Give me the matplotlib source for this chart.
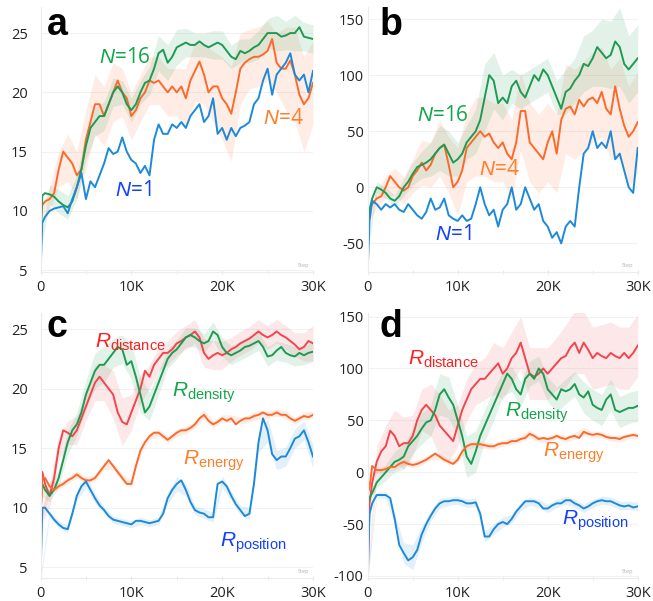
import numpy as np
import matplotlib
matplotlib.use("Agg")
import matplotlib.pyplot as plt

plt.rcParams['font.family'] = ['Open Sans', 'DejaVu Sans']
plt.rcParams['mathtext.fontset'] = 'custom'
plt.rcParams['mathtext.rm'] = 'Liberation Sans'
plt.rcParams['mathtext.it'] = 'Liberation Sans:italic'

# training steps: 0, 200, then every 500 up to 30K
steps = np.array([0, 200] + list(range(500, 30001, 500)))
band_steps = np.arange(0, 30001, 1000)

# ---- panel a ----
a_n1 = [4.7, 9.0, 9.5, 10.0, 10.2, 10.3, 10.4, 9.8, 11.0, 12.0, 13.2, 11.0, 12.5, 12.0, 13.0, 14.0, 15.3, 14.8, 15.0, 16.2,
        15.0, 14.3, 14.0, 13.2, 13.8, 13.0, 16.0, 17.3, 16.5, 16.5, 17.3, 17.0, 17.5, 17.0, 18.0, 18.5, 19.0, 17.5, 18.0, 19.5,
        16.5, 17.0, 16.0, 17.0, 16.3, 17.0, 17.2, 17.5, 19.0, 19.5, 21.0, 22.0, 19.8, 21.5, 22.0, 22.5, 23.3, 21.5, 21.0, 21.5,
        20.0, 21.8]
a_n4 = [9.8, 10.5, 10.8, 11.0, 11.5, 13.5, 15.0, 14.5, 14.0, 13.0, 13.5, 16.0, 17.5, 19.0, 19.0, 18.0, 19.0, 20.0, 21.0, 20.0,
        19.5, 18.0, 18.5, 19.5, 20.0, 21.0, 20.8, 21.0, 20.5, 20.0, 20.5, 20.0, 20.5, 19.5, 21.0, 21.8, 22.6, 21.5, 20.0, 20.5,
        20.5, 19.5, 19.0, 18.2, 20.0, 22.0, 22.5, 22.8, 23.0, 23.0, 23.2, 23.5, 24.5, 22.5, 22.0, 22.0, 22.7, 21.5, 19.8, 19.0,
        19.5, 20.8]
a_n16 = [7.0, 11.3, 11.5, 11.4, 11.2, 10.8, 10.5, 10.3, 10.8, 12.0, 13.5, 15.5, 17.0, 17.5, 18.0, 18.0, 19.0, 20.0, 20.5, 20.0,
         19.0, 18.5, 19.0, 20.0, 20.8, 21.0, 22.0, 23.3, 23.6, 22.5, 23.0, 23.8, 24.0, 24.2, 24.0, 24.0, 24.3, 24.0, 23.8, 24.0,
         24.2, 24.0, 23.5, 23.0, 22.8, 23.5, 23.3, 23.5, 23.8, 24.0, 24.5, 25.0, 25.0, 25.0, 24.7, 24.8, 25.0, 25.0, 25.5, 24.7,
         24.6, 24.5]
a_n4_band = [0.5, 1.0, 1.5, 2.0, 2.0, 2.5, 2.5, 2.5, 2.5, 2.0, 2.0, 2.0, 2.0, 2.0, 2.0, 2.0, 2.5, 2.5, 2.5, 3.0, 3.5, 4.0,
             3.0, 2.5, 2.5, 2.5, 2.5, 3.5, 4.0, 4.0, 3.5]
a_n16_band = [0.3, 0.8, 1.0, 1.0, 1.0, 1.2, 1.2, 1.2, 1.2, 1.0, 1.0, 1.0, 1.2, 1.5, 1.5, 1.5, 1.2, 1.0, 1.0, 1.2, 1.2, 1.0,
              1.0, 1.0, 1.2, 1.2, 1.5, 1.2, 1.5, 1.2, 1.2]

# ---- panel b ----
b_n1 = [-75, -30, -12, -15, -20, -15, -18, -15, -20, -22, -15, -20, -25, -28, -22, -10, -20, -18, -10, -25, -28, -30, -25, -30,
        -28, -15, 0, -15, -25, -20, -35, -20, -15, 0, -20, -15, 0, -10, -20, -15, -30, -35, -45, -40, -50, -35, -30, -35, 0, 30,
        35, 50, 35, 40, 35, 50, 25, 30, 15, 0, -5, 35]
b_n4 = [-28, -20, -15, -10, -8, 0, 10, 5, 0, -3, 0, 10, 15, 22, 15, 20, 30, 35, 38, 20, 0, 5, 15, 35, 40, 45, 50, 45, 48, 40,
        35, 40, 30, 25, 40, 68, 68, 40, 35, 30, 25, 40, 50, 30, 60, 70, 72, 65, 78, 72, 78, 80, 75, 85, 70, 65, 90, 70, 55, 45,
        50, 58]
b_n16 = [-55, -20, -10, 0, -2, -5, -10, -12, -8, 0, 5, 12, 18, 20, 22, 25, 30, 35, 38, 30, 22, 25, 30, 40, 45, 50, 60, 80, 100,
         95, 75, 80, 75, 90, 95, 85, 80, 90, 100, 95, 105, 100, 90, 80, 70, 85, 88, 95, 100, 110, 108, 115, 125, 120, 115, 118,
         130, 125, 110, 105, 110, 115]
b_n4_band = [5, 8, 10, 12, 12, 15, 20, 20, 25, 25, 30, 30, 35, 35, 35, 35, 35, 35, 35, 35, 35, 35, 40, 40, 40, 40, 40, 40, 45,
             45, 45]
b_n16_band = [5, 5, 5, 5, 8, 10, 12, 15, 20, 20, 15, 15, 20, 30, 25, 20, 15, 15, 15, 15, 15, 15, 20, 20, 25, 25, 30, 30, 35, 30,
              30]

# ---- panel c ----
c_dist = [9.0, 13.0, 12.0, 11.0, 12.5, 15.0, 16.5, 16.3, 16.0, 16.5, 17.5, 18.5, 19.5, 20.5, 21.0, 20.5, 20.0, 19.5, 18.0, 17.2,
          17.0, 18.0, 19.0, 20.0, 21.5, 21.0, 22.0, 22.5, 23.0, 23.0, 23.3, 23.8, 24.0, 24.3, 24.5, 24.8, 24.3, 23.0, 22.5, 22.8,
          23.0, 22.8, 23.0, 23.3, 23.5, 23.8, 24.0, 24.2, 24.5, 24.8, 24.5, 24.3, 24.5, 24.8, 24.5, 24.3, 24.0, 23.7, 23.3, 23.5,
          24.0, 23.8]
c_dens = [11.5, 12.0, 11.5, 11.0, 11.5, 12.5, 14.0, 15.5, 16.5, 17.0, 18.0, 19.5, 20.5, 21.5, 22.0, 22.0, 22.5, 23.0, 23.5, 23.3,
          22.0, 22.3, 21.0, 19.5, 18.0, 18.5, 19.5, 20.5, 21.5, 22.5, 23.0, 23.3, 23.8, 24.3, 24.5, 24.3, 24.0, 23.8, 24.0, 24.8,
          24.5, 23.5, 23.0, 22.8, 23.0, 23.2, 23.5, 23.6, 23.8, 24.0, 23.5, 22.7, 22.8, 23.2, 23.5, 23.0, 22.8, 22.7, 23.0, 22.8,
          23.0, 23.1]
c_energy = [9.0, 12.5, 12.5, 11.8, 11.5, 11.8, 12.0, 12.3, 12.5, 12.8, 12.5, 12.3, 12.3, 12.5, 13.0, 13.5, 14.0, 13.5, 13.0, 12.5,
            12.0, 12.0, 13.5, 14.8, 15.5, 16.0, 16.3, 16.3, 16.0, 15.7, 16.0, 16.3, 16.5, 16.5, 16.7, 17.0, 17.5, 17.8, 17.3, 17.0,
            17.2, 17.5, 17.3, 17.5, 17.0, 17.3, 17.5, 17.5, 17.7, 17.8, 18.0, 17.8, 17.8, 18.0, 17.8, 17.8, 17.5, 17.3, 17.5, 17.7,
            17.6, 17.8]
c_pos = [4.0, 10.0, 10.0, 9.5, 9.0, 8.6, 8.3, 8.2, 9.5, 11.0, 11.8, 12.2, 11.5, 10.8, 10.2, 9.8, 9.3, 9.0, 8.9, 8.8,
         8.7, 8.6, 8.9, 8.9, 8.8, 8.7, 8.8, 8.9, 9.5, 10.8, 11.5, 12.0, 12.3, 11.5, 10.5, 9.8, 9.6, 9.5, 9.2, 9.2,
         12.0, 12.2, 11.8, 11.0, 10.3, 9.8, 9.3, 9.5, 12.0, 15.5, 17.5, 16.5, 14.5, 14.0, 14.3, 14.3, 15.0, 15.8, 16.0, 16.5,
         15.5, 14.3]
c_dist_band = [0.5, 1.0, 1.0, 1.0, 1.2, 1.2, 1.5, 1.5, 2.0, 2.0, 1.5, 1.2, 1.0, 1.0, 1.0, 1.0, 1.0, 1.0, 1.2, 1.2, 1.2, 1.0,
               1.0, 1.0, 1.0, 1.0, 1.0, 1.0, 1.0, 1.2, 1.5]
c_dens_band = [0.5, 0.5, 0.8, 1.0, 1.0, 1.2, 1.5, 1.5, 1.2, 1.2, 1.5, 1.5, 1.2, 1.0, 0.8, 0.8, 0.8, 0.8, 0.8, 0.8, 0.8, 0.8,
               0.8, 0.8, 0.8, 0.8, 0.8, 0.8, 0.8, 0.8, 0.8]
c_energy_band = [0.5, 0.5, 0.3, 0.3, 0.3, 0.3, 0.3, 0.3, 0.3, 0.3, 0.3, 0.3, 0.3, 0.3, 0.3, 0.3, 0.3, 0.3, 0.4, 0.3, 0.3,
                 0.3, 0.3, 0.3, 0.4, 0.3, 0.3, 0.3, 0.3, 0.3, 0.3]
c_pos_band = [0.3, 0.3, 0.3, 0.3, 0.4, 0.5, 0.4, 0.3, 0.3, 0.3, 0.3, 0.3, 0.3, 0.3, 0.5, 0.6, 0.5, 0.4, 0.4, 0.4, 0.5, 0.4,
              0.4, 0.5, 0.8, 1.0, 0.8, 0.8, 0.8, 0.8, 1.0]

# ---- panel d ----
d_dist = [-100, -30, -10, 10, 20, 25, 40, 35, 25, 28, 28, 35, 50, 60, 65, 60, 55, 45, 40, 35, 30, 45, 60, 70, 80, 85, 90, 90,
          95, 100, 105, 95, 100, 110, 115, 125, 110, 95, 92, 95, 100, 95, 100, 105, 110, 112, 120, 125, 115, 125, 118, 110,
          115, 112, 110, 115, 112, 110, 115, 110, 115, 122]
d_dens = [-30, -25, -20, -10, -5, 0, 5, 10, 12, 15, 25, 30, 35, 42, 48, 50, 60, 75, 80, 72, 65, 50, 35, 15, 8, 20, 35, 45, 55,
          65, 75, 85, 95, 90, 80, 75, 90, 95, 90, 100, 95, 80, 75, 70, 80, 78, 80, 85, 75, 72, 78, 65, 62, 60, 70, 75, 60, 58,
          60, 62, 62, 64]
d_energy = [-20, -15, 6, 2, 2, 3, 5, 5, 8, 10, 8, 7, 8, 10, 12, 15, 18, 15, 12, 10, 8, 12, 20, 25, 27, 27, 27, 26, 25, 25, 27,
            28, 28, 30, 30, 32, 33, 37, 35, 32, 33, 32, 33, 35, 33, 32, 34, 35, 33, 39, 37, 36, 37, 36, 34, 33, 33, 32, 34, 35,
            36, 35]
d_pos = [-100, -40, -30, -22, -22, -22, -25, -45, -70, -78, -85, -82, -75, -60, -50, -42, -35, -30, -28, -28, -27, -27, -28,
         -30, -30, -29, -40, -62, -62, -55, -50, -48, -50, -45, -38, -33, -28, -28, -28, -30, -35, -35, -32, -30, -30, -27, -27,
         -30, -32, -35, -33, -30, -28, -27, -28, -28, -30, -32, -33, -32, -34, -33]
d_dist_band = [5, 15, 20, 25, 25, 20, 20, 25, 30, 25, 20, 20, 20, 20, 25, 25, 25, 25, 25, 25, 25, 25, 30, 30, 30, 30, 30, 30,
               30, 30, 30]
d_dens_band = [5, 5, 8, 10, 12, 12, 15, 15, 20, 20, 15, 20, 20, 15, 15, 12, 12, 12, 12, 12, 12, 12, 12, 12, 15, 15, 15, 15, 15,
               15, 15]
d_energy_band = [3, 3, 3, 3, 3, 3, 3, 3, 3, 3, 3, 3, 3, 3, 3, 3, 3, 3, 4, 3, 3, 3, 3, 3, 4, 3, 3, 3, 3, 3, 3]
d_pos_band = [5, 3, 3, 5, 10, 12, 8, 5, 5, 4, 4, 4, 4, 5, 5, 5, 4, 4, 4, 4, 4, 4, 4, 4, 4, 4, 4, 4, 4, 4, 4]

GREEN = '#1f9a52'
ORANGE = '#fb6a2c'
BLUE = '#1c8ad9'
RED = '#f2454c'
T_GREEN = '#12a64a'
T_ORANGE = '#ff7f2a'
T_BLUE = '#1240ff'
T_RED = '#ff1f1f'

fig = plt.figure(figsize=(6.53, 6.01), dpi=100)
W, H = 653, 601


def make_ax(left, right, top, bottom):
    return fig.add_axes([left / W, 1 - bottom / H, (right - left) / W, (bottom - top) / H])


def style(ax, ylim, yticks, ypad):
    ax.set_xlim(0, 30000)
    ax.set_ylim(*ylim)
    ax.set_yticks(yticks)
    ax.set_yticklabels([str(v) for v in yticks])
    ax.set_xticks([0, 10000, 20000, 30000])
    ax.set_xticklabels(['0', '10K', '20K', '30K'])
    ax.set_xticks([5000, 15000, 25000], minor=True)
    for s in ['top', 'right']:
        ax.spines[s].set_visible(False)
    for s in ['left', 'bottom']:
        ax.spines[s].set_color('#ececec')
        ax.spines[s].set_linewidth(0.8)
    ax.grid(axis='y', color='#f2f2f2', linewidth=0.8)
    ax.set_axisbelow(True)
    ax.tick_params(axis='y', length=0, pad=ypad, labelsize=10.5, labelcolor='#222222')
    ax.tick_params(axis='x', which='major', length=3, color='#e6e6e6', direction='inout', pad=4,
                   labelsize=10.5, labelcolor='#222222')
    ax.tick_params(axis='x', which='minor', length=3, color='#e6e6e6', direction='inout')
    ax.text(0.985, 0.015, 'Step', transform=ax.transAxes, fontsize=4, color='#b0b0b0', ha='right', va='bottom')


def curve(ax, y, band, color):
    y = np.array(y, dtype=float)
    if band is not None:
        mask = steps % 1000 == 0
        yc = y[mask]
        bw = np.array(band, dtype=float)
        ax.fill_between(band_steps, yc - bw, yc + bw, color=color, alpha=0.12, linewidth=0)
    ax.plot(steps, y, color=color, linewidth=1.4)


def panel_letter(ax, letter, x, y):
    ax.text(x, y, letter, transform=ax.transAxes, fontsize=27, fontweight='bold', family='Liberation Sans')


ax_a = make_ax(40.5, 313, 7, 272)
ax_b = make_ax(367.7, 637.7, 7, 272)
ax_c = make_ax(40.5, 313, 313, 578)
ax_d = make_ax(367.7, 637.7, 313, 578)

# a
curve(ax_a, a_n4, a_n4_band, ORANGE)
curve(ax_a, a_n16, a_n16_band, GREEN)
curve(ax_a, a_n1, None, BLUE)
style(ax_a, (4.85, 27.2), [5, 10, 15, 20, 25], 9)
panel_letter(ax_a, 'a', 0.022, 0.894)
ax_a.text(0.31, 0.811, r'$\mathit{N}$=16', transform=ax_a.transAxes, fontsize=15, color=T_GREEN, ha='center', va='center')
ax_a.text(0.89, 0.581, r'$\mathit{N}$=4', transform=ax_a.transAxes, fontsize=15, color=T_ORANGE, ha='center', va='center')
ax_a.text(0.339, 0.306, r'$\mathit{N}$=1', transform=ax_a.transAxes, fontsize=15, color=T_BLUE, ha='center', va='center')

# b
curve(ax_b, b_n4, b_n4_band, ORANGE)
curve(ax_b, b_n16, b_n16_band, GREEN)
curve(ax_b, b_n1, None, BLUE)
style(ax_b, (-75.5, 160.7), [-50, 0, 50, 100, 150], 3)
panel_letter(ax_b, 'b', 0.044, 0.894)
ax_b.text(0.279, 0.589, r'$\mathit{N}$=16', transform=ax_b.transAxes, fontsize=15, color=T_GREEN, ha='center', va='center')
ax_b.text(0.486, 0.385, r'$\mathit{N}$=4', transform=ax_b.transAxes, fontsize=15, color=T_ORANGE, ha='center', va='center')
ax_b.text(0.316, 0.143, r'$\mathit{N}$=1', transform=ax_b.transAxes, fontsize=15, color=T_BLUE, ha='center', va='center')

# c
curve(ax_c, c_dist, c_dist_band, RED)
curve(ax_c, c_dens, c_dens_band, GREEN)
curve(ax_c, c_energy, c_energy_band, ORANGE)
curve(ax_c, c_pos, c_pos_band, BLUE)
style(ax_c, (4.1, 26.35), [5, 10, 15, 20, 25], 9)
panel_letter(ax_c, 'c', 0.022, 0.909)
ax_c.text(0.20, 0.868, r'$\mathit{R}_{\mathrm{distance}}$', transform=ax_c.transAxes, fontsize=15, color=T_RED)
ax_c.text(0.483, 0.683, r'$\mathit{R}_{\mathrm{density}}$', transform=ax_c.transAxes, fontsize=15, color=T_GREEN)
ax_c.text(0.523, 0.426, r'$\mathit{R}_{\mathrm{energy}}$', transform=ax_c.transAxes, fontsize=15, color=T_ORANGE)
ax_c.text(0.659, 0.117, r'$\mathit{R}_{\mathrm{position}}$', transform=ax_c.transAxes, fontsize=15, color=T_BLUE)

# d
curve(ax_d, d_dist, d_dist_band, RED)
curve(ax_d, d_dens, d_dens_band, GREEN)
curve(ax_d, d_energy, d_energy_band, ORANGE)
curve(ax_d, d_pos, d_pos_band, BLUE)
style(ax_d, (-102, 153.5), [-100, -50, 0, 50, 100, 150], 3)
panel_letter(ax_d, 'd', 0.044, 0.909)
ax_d.text(0.149, 0.804, r'$\mathit{R}_{\mathrm{distance}}$', transform=ax_d.transAxes, fontsize=15, color=T_RED)
ax_d.text(0.509, 0.608, r'$\mathit{R}_{\mathrm{density}}$', transform=ax_d.transAxes, fontsize=15, color=T_GREEN)
ax_d.text(0.649, 0.457, r'$\mathit{R}_{\mathrm{energy}}$', transform=ax_d.transAxes, fontsize=15, color=T_ORANGE)
ax_d.text(0.72, 0.20, r'$\mathit{R}_{\mathrm{position}}$', transform=ax_d.transAxes, fontsize=15, color=T_BLUE)

fig.savefig('out.png', dpi=100)
